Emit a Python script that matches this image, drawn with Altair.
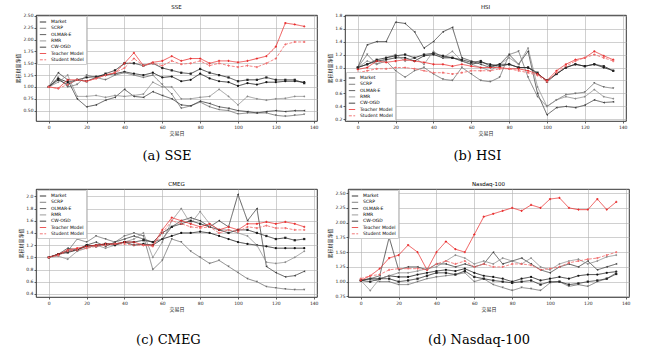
import altair as alt
import pandas as pd

days = list(range(0, 136, 5))
names = ["Market", "SCRP", "OLMAR-E", "RMR", "CW-OGD", "Teacher Model", "Student Model"]
colors = ["#111111", "#6a6a6a", "#3a3a3a", "#8a8a8a", "#222222", "#e82c2c", "#f06a6a"]
shapes = ["circle", "triangle-down", "triangle-left", "diamond", "square", "cross", "cross"]
dashes = [[1, 0]] * 6 + [[3, 1.5]]
x_ticks = [0, 20, 40, 60, 80, 100, 120, 140]

# ---- SSE ----
sse_market = [1.00,1.18,1.10,1.15,1.20,1.22,1.25,1.28,1.32,1.28,1.25,1.30,1.20,1.22,1.12,1.15,1.28,1.18,1.12,1.10,1.02,1.08,1.05,1.10,1.10,1.12,1.12,1.10]
sse_scrp = [1.00,1.20,1.00,1.05,1.25,1.20,1.15,1.25,1.30,1.25,1.20,1.25,1.05,0.85,0.55,0.60,0.68,0.58,0.52,0.50,0.43,0.45,0.45,0.45,0.40,0.38,0.40,0.42]
sse_olmar = [1.00,1.30,1.15,0.75,0.58,0.62,0.72,0.78,0.95,0.80,0.78,0.90,0.82,0.75,0.62,0.60,0.70,0.65,0.58,0.55,0.50,0.48,0.45,0.48,0.50,0.48,0.50,0.50]
sse_rmr = [1.00,1.10,1.25,0.80,0.80,0.82,0.78,0.82,0.80,0.82,0.85,1.10,1.00,1.00,0.75,0.75,0.78,0.80,0.95,0.80,0.62,0.80,0.75,0.72,0.75,0.76,0.80,0.80]
sse_cwogd = [1.00,1.15,1.05,1.15,1.12,1.20,1.28,1.35,1.50,1.50,1.45,1.50,1.40,1.35,1.30,1.28,1.38,1.30,1.25,1.20,1.12,1.15,1.15,1.20,1.15,1.15,1.15,1.08]
sse_teacher = [1.00,0.97,1.15,1.15,1.12,1.18,1.25,1.30,1.50,1.72,1.45,1.52,1.55,1.65,1.55,1.60,1.60,1.50,1.55,1.55,1.52,1.55,1.60,1.65,1.85,2.35,2.32,2.28]
sse_student = [1.00,0.97,1.05,1.15,1.12,1.18,1.25,1.30,1.40,1.60,1.45,1.50,1.45,1.55,1.48,1.50,1.55,1.45,1.50,1.45,1.42,1.45,1.42,1.50,1.60,1.90,1.95,1.95]

# ---- HSI ----
hsi_market = [1.00,1.05,1.10,1.12,1.15,1.15,1.10,1.18,1.20,1.15,1.15,1.10,1.05,1.08,1.05,1.02,1.05,1.00,1.00,0.90,0.80,0.90,1.00,1.05,1.02,1.05,1.00,0.95]
hsi_scrp = [1.00,1.20,1.05,1.10,0.95,0.85,0.95,1.00,0.90,0.82,0.80,1.00,0.90,0.80,0.78,0.85,1.20,1.25,0.85,0.55,0.40,0.50,0.58,0.60,0.62,0.76,0.70,0.68]
hsi_olmar = [1.00,1.35,1.40,1.40,1.70,1.68,1.55,1.30,1.40,1.55,1.62,1.15,1.10,1.05,1.00,1.05,1.20,1.05,1.25,0.60,0.27,0.38,0.40,0.38,0.42,0.50,0.46,0.47]
hsi_rmr = [1.00,1.10,1.05,1.15,1.20,1.10,1.15,1.05,1.25,1.15,1.25,1.10,1.05,1.00,0.95,1.05,1.15,1.05,1.30,0.70,0.40,0.50,0.55,0.52,0.55,0.66,0.55,0.52]
hsi_cwogd = [1.00,1.05,1.12,1.15,1.18,1.20,1.15,1.20,1.22,1.18,1.15,1.12,1.08,1.10,1.02,1.05,1.05,1.00,1.00,0.92,0.78,0.90,1.00,1.05,1.02,1.05,1.02,0.95]
hsi_teacher = [0.97,1.00,1.10,1.08,1.10,1.12,1.10,1.08,1.05,1.05,1.02,1.05,1.02,1.00,1.00,1.00,0.98,0.98,0.95,0.90,0.80,0.95,1.05,1.12,1.15,1.25,1.18,1.12]
hsi_student = [0.92,0.95,0.98,0.98,1.00,1.00,0.98,0.95,0.92,0.92,0.90,0.92,0.95,0.95,0.95,0.98,0.98,0.95,0.92,0.88,0.78,0.92,1.02,1.10,1.15,1.20,1.15,1.10]

# ---- CMEG ----
cmeg_market = [1.00,1.05,1.10,1.12,1.18,1.20,1.22,1.22,1.25,1.20,1.22,1.20,1.30,1.35,1.40,1.40,1.42,1.40,1.35,1.30,1.25,1.22,1.20,1.18,1.15,1.15,1.15,1.15]
cmeg_scrp = [1.00,1.05,1.10,1.30,1.25,1.35,1.30,1.25,1.35,1.40,1.35,0.80,0.95,1.30,1.25,1.10,1.00,0.90,0.95,0.85,0.75,0.65,0.60,0.52,0.50,0.48,0.47,0.47]
cmeg_olmar = [1.00,1.05,1.15,1.12,1.20,1.25,1.18,1.25,1.30,1.35,1.30,1.25,1.30,1.50,1.60,1.65,1.60,1.50,1.60,1.50,2.03,1.60,1.80,0.85,0.75,0.68,0.70,0.77]
cmeg_rmr = [1.00,1.02,0.97,1.10,1.15,1.20,1.15,1.20,1.25,1.30,1.40,1.00,1.25,1.60,1.80,1.55,1.75,1.55,1.45,1.45,1.40,1.35,1.20,0.92,0.90,0.92,1.00,1.10]
cmeg_cwogd = [1.00,1.05,1.08,1.12,1.20,1.18,1.22,1.20,1.25,1.25,1.28,1.25,1.40,1.50,1.55,1.60,1.55,1.50,1.45,1.40,1.45,1.45,1.40,1.35,1.30,1.32,1.28,1.30]
cmeg_teacher = [1.00,1.05,1.12,1.15,1.18,1.20,1.22,1.22,1.25,1.25,1.20,1.20,1.45,1.65,1.60,1.55,1.50,1.55,1.45,1.50,1.45,1.55,1.55,1.58,1.55,1.58,1.55,1.50]
cmeg_student = [1.00,1.03,1.10,1.12,1.15,1.18,1.20,1.22,1.22,1.20,1.20,1.18,1.40,1.60,1.55,1.50,1.48,1.50,1.40,1.45,1.42,1.50,1.48,1.52,1.48,1.48,1.45,1.45]

# ---- Nasdaq-100 ----
ndx_market = [1.02,1.05,1.05,1.10,1.08,1.08,1.12,1.15,1.18,1.20,1.18,1.22,1.15,1.10,1.08,1.05,1.00,1.05,1.08,1.02,1.05,1.08,1.05,1.10,1.12,1.12,1.15,1.17]
ndx_scrp = [1.02,1.05,1.00,1.00,0.95,0.95,1.00,1.05,1.08,1.10,1.12,1.15,1.00,1.05,0.95,0.90,0.85,0.90,0.88,0.85,0.98,1.00,0.92,0.95,0.92,1.00,1.05,1.15]
ndx_olmar = [1.02,1.05,1.10,1.75,1.20,1.25,1.25,1.20,1.30,1.30,1.25,1.30,1.25,1.30,1.50,1.30,1.35,1.40,1.30,1.20,1.15,1.25,1.30,1.25,1.35,1.20,1.25,1.30]
ndx_rmr = [1.02,0.85,1.05,1.10,1.15,1.15,1.18,1.22,1.25,1.35,1.45,1.40,1.30,1.35,1.30,1.40,1.35,1.30,1.40,1.25,1.20,1.30,1.35,1.38,1.30,1.35,1.42,1.45]
ndx_cwogd = [1.02,1.00,1.05,1.05,1.00,1.02,1.05,1.10,1.15,1.15,1.12,1.18,1.08,1.05,1.02,1.00,0.98,1.00,1.02,0.95,1.00,1.00,0.95,0.97,1.00,1.02,1.05,1.13]
ndx_teacher = [1.02,1.10,1.22,1.40,1.45,1.62,1.50,1.20,1.50,1.68,1.55,1.50,1.80,2.10,2.15,2.20,2.25,2.20,2.30,2.25,2.40,2.42,2.25,2.22,2.22,2.40,2.22,2.35]
ndx_student = [1.05,1.10,1.12,1.20,1.22,1.22,1.22,1.20,1.30,1.35,1.30,1.35,1.25,1.30,1.25,1.25,1.30,1.30,1.28,1.20,1.22,1.25,1.32,1.35,1.38,1.40,1.45,1.50]

panels = [
    ("SSE", "(a)  SSE", [sse_market, sse_scrp, sse_olmar, sse_rmr, sse_cwogd, sse_teacher, sse_student],
     [0.28, 2.52], [0.5, 0.75, 1.0, 1.25, 1.5, 1.75, 2.0, 2.25, 2.5], ".2f", "top-left", 106, 14),
    ("HSI", "(b)  HSI", [hsi_market, hsi_scrp, hsi_olmar, hsi_rmr, hsi_cwogd, hsi_teacher, hsi_student],
     [0.175, 1.81], [0.2, 0.4, 0.6, 0.8, 1.0, 1.2, 1.4, 1.6, 1.8], ".1f", "bottom-left", 106, 14),
    ("CMEG", "(c)  CMEG", [cmeg_market, cmeg_scrp, cmeg_olmar, cmeg_rmr, cmeg_cwogd, cmeg_teacher, cmeg_student],
     [0.35, 2.12], [0.4, 0.6, 0.8, 1.0, 1.2, 1.4, 1.6, 1.8, 2.0], ".1f", "top-left", 108, 22),
    ("Nasdaq-100", "(d)  Nasdaq-100", [ndx_market, ndx_scrp, ndx_olmar, ndx_rmr, ndx_cwogd, ndx_teacher, ndx_student],
     [0.74, 2.57], [0.75, 1.0, 1.25, 1.5, 1.75, 2.0, 2.25, 2.5], ".2f", "top-left", 108, 22),
]

IND = dict(color="independent", strokeDash="independent", shape="independent")


def make_panel(title, caption, series, ydom, yticks, fmt, lorient, h, cap_off):
    rows = []
    for name, vals in zip(names, series):
        for d, v in zip(days, vals):
            rows.append({"day": d, "value": v, "series": name, "marker": name})
    df = pd.DataFrame(rows)
    x = alt.X("day:Q", scale=alt.Scale(domain=[-6.75, 141.75], nice=False, zero=False),
              axis=alt.Axis(values=x_ticks, title="交易日", format="d"))
    y = alt.Y("value:Q", scale=alt.Scale(domain=ydom, nice=False, zero=False),
              axis=alt.Axis(values=yticks, format=fmt, title="累积财富净值"))
    line = alt.Chart(df).mark_line(strokeWidth=0.8, clip=True).encode(
        x=x, y=y,
        color=alt.Color("series:N", sort=names,
                        scale=alt.Scale(domain=names, range=colors),
                        legend=alt.Legend(title=None, orient=lorient, symbolType="stroke",
                                          symbolSize=40, symbolStrokeWidth=0.9,
                                          labelFontSize=4.5, labelFont="DejaVu Sans",
                                          padding=2, offset=1, rowPadding=0.3,
                                          strokeColor="#cccccc", fillColor="white",
                                          labelOffset=4)),
        strokeDash=alt.StrokeDash("series:N", sort=names,
                                  scale=alt.Scale(domain=names, range=dashes), legend=None),
    )
    pts = alt.Chart(df).mark_point(size=5, filled=True, clip=True, opacity=1).encode(
        x=x, y=y,
        color=alt.Color("marker:N", sort=names, scale=alt.Scale(domain=names, range=colors), legend=None),
        shape=alt.Shape("marker:N", sort=names, scale=alt.Scale(domain=names, range=shapes), legend=None),
    )
    layer = alt.layer(line, pts).resolve_scale(**IND).resolve_legend(
        color="independent", shape="independent", strokeDash="independent"
    ).properties(
        width=281, height=h,
        title=alt.TitleParams(title, fontSize=5.5, font="DejaVu Sans", fontWeight="normal", offset=2),
    )
    return alt.vconcat(layer).properties(
        title=alt.TitleParams(caption, orient="bottom", anchor="middle", frame="bounds",
                              fontSize=13, font="DejaVu Serif", fontWeight="normal", offset=cap_off)
    ).resolve_scale(**IND)


p = [make_panel(*args) for args in panels]
row1 = alt.hconcat(p[0], p[1], spacing=8).resolve_scale(**IND)
row2 = alt.hconcat(p[2], p[3], spacing=8).resolve_scale(**IND)
chart = alt.vconcat(row1, row2, spacing=18).resolve_scale(**IND).properties(
    padding={"left": 15, "top": 4, "right": 0, "bottom": 0}
).configure_view(
    stroke="black", strokeWidth=0.8
).configure_axis(
    labelFontSize=4.5, labelFont="DejaVu Sans", tickSize=2, tickWidth=0.6, labelPadding=1,
    titleFontSize=5, titleFont="Noto Sans CJK SC", titleFontWeight="normal", titlePadding=2,
    gridColor="#b0b0b0", gridWidth=0.6, domain=False, tickColor="black", labelColor="#222222",
    titleColor="#222222"
).configure_legend(
    symbolLimit=0
)

chart.save("out.html", embed_options={"renderer": "svg", "actions": False})
